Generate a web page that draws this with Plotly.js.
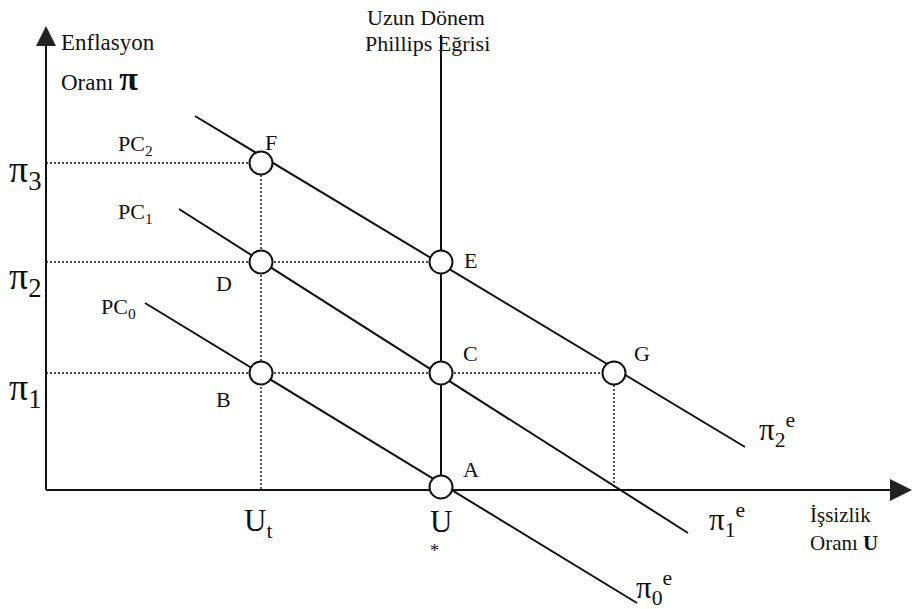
<!DOCTYPE html>
<html>
<head>
<meta charset="utf-8">
<script src="https://cdn.plot.ly/plotly-3.0.1.min.js"></script>
<style>html,body{margin:0;padding:0;background:#fff;}#chart{width:917px;height:609px;}</style>
</head>
<body>
<div id="chart"></div>
<script>
// ---- Data (diagram units: unemployment U on x, inflation π on y) ----
const U_t = 21.5, U_star = 39.5, U_g = 56.8;
const pi1 = 11.7, pi2 = 22.8, pi3 = 32.7;

const pc0_x = [9.9, 59.1],  pc0_y = [18.7, -11.3];
const pc1_x = [13.3, 64.2], pc1_y = [28.1, -4.3];
const pc2_x = [14.9, 69.9], pc2_y = [37.4, 4.3];
const lr_x = [U_star, U_star], lr_y = [45.5, 0.3];

const pointLabels = ['A', 'B', 'C', 'D', 'E', 'F', 'G'];
const pointX = [U_star, U_t, U_star, U_t, U_star, U_t, U_g];
const pointY = [0.3, pi1, pi1, pi2, pi2, pi3, pi1];

const xAxisEnd = 86.6, yAxisEnd = 46.4;

// ---- Styling ----
const FONT = 'Liberation Serif, Times New Roman, serif';
const INK = '#111';

// pixel helpers for label placement (plot area = whole figure)
const X0 = -4.6, X1 = 87.1, Y0 = -11.9, Y1 = 49.0, W = 917, H = 609;
const px = v => X0 + (X1 - X0) * v / W;
const py = v => Y1 - (Y1 - Y0) * v / H;

function solid(x, y, w) {
  return {type: 'scatter', mode: 'lines', x: x, y: y, hoverinfo: 'skip',
          line: {color: INK, width: w || 2}, showlegend: false};
}
function dotted(x, y) {
  return {type: 'scatter', mode: 'lines', x: x, y: y, hoverinfo: 'skip',
          line: {color: INK, width: 1.4, dash: '2px,2px'}, showlegend: false};
}

const traces = [
  // guide lines
  dotted([0, U_t], [pi3, pi3]),
  dotted([0, U_star], [pi2, pi2]),
  dotted([0, U_g], [pi1, pi1]),
  dotted([U_t, U_t], [pi3, 0]),
  dotted([U_g, U_g], [pi1, 0]),
  // axes
  solid([0, 0], [0, yAxisEnd - 1.5], 2),
  solid([0, xAxisEnd - 1.5], [0, 0], 2),
  {type: 'scatter', mode: 'markers', x: [0], y: [yAxisEnd], showlegend: false, hoverinfo: 'skip',
   marker: {symbol: 'arrow-up', size: 20, color: '#222', line: {width: 0}}},
  {type: 'scatter', mode: 'markers', x: [xAxisEnd], y: [0], showlegend: false, hoverinfo: 'skip',
   marker: {symbol: 'arrow-right', size: 22, color: '#222', line: {width: 0}}},
  // curves
  solid(pc0_x, pc0_y, 2),
  solid(pc1_x, pc1_y, 2),
  solid(pc2_x, pc2_y, 2),
  solid(lr_x, lr_y, 2),
  // points
  {type: 'scatter', mode: 'markers', x: pointX, y: pointY, text: pointLabels,
   showlegend: false, hoverinfo: 'skip',
   marker: {symbol: 'circle', size: 23, color: '#fff', line: {color: INK, width: 2}}}
];

function ann(text, x, y, opts) {
  return Object.assign({text: text, x: x, y: y, xref: 'x', yref: 'y', showarrow: false,
    font: {family: FONT, size: 22, color: INK}}, opts || {});
}
const big = s => ({family: FONT, size: s, color: INK});

const ptShift = {A: [30, 18], B: [-38, -26], C: [29, 20], D: [-37, -21], E: [29, 2], F: [10, 21], G: [28, 20]};
const annotations = [];
pointLabels.forEach((l, i) => {
  annotations.push(ann(l, pointX[i], pointY[i], {xshift: ptShift[l][0], yshift: ptShift[l][1]}));
});

annotations.push(
  ann('Enflasyon', px(59), py(42), {xanchor: 'left', font: big(23)}),
  ann('Oranı <b><span style="font-size:34px">π</span></b>', px(59), py(78), {xanchor: 'left', font: big(23)}),
  ann('Uzun Dönem', px(426), py(17)),
  ann('Phillips Eğrisi', px(427), py(43)),
  ann('İşsizlik', px(808), py(515), {xanchor: 'left', font: big(21)}),
  ann('Oranı <b>U</b>', px(808), py(543), {xanchor: 'left', font: big(21)}),
  ann('PC<sub>2</sub>', px(135), py(145)),
  ann('PC<sub>1</sub>', px(135), py(213)),
  ann('PC<sub>0</sub>', px(118), py(308)),
  ann('π<sub>3</sub>', px(25), py(172), {font: big(38)}),
  ann('π<sub>2</sub>', px(25), py(279), {font: big(38)}),
  ann('π<sub>1</sub>', px(25), py(390), {font: big(38)}),
  ann('U<sub>t</sub>', U_t, 0, {xshift: -3, yshift: -33, font: big(31)}),
  ann('U', U_star, 0, {yshift: -31, font: big(31)}),
  ann('*', U_star, 0, {xshift: -7, yshift: -61, font: big(18)}),
  ann('π<sub>2</sub><sup>e</sup>', px(777), py(430), {font: big(31)}),
  ann('π<sub>1</sub><sup>e</sup>', px(727), py(520), {font: big(31)}),
  ann('π<sub>0</sub><sup>e</sup>', px(654), py(588), {font: big(31)})
);

const layout = {
  width: W, height: H,
  margin: {l: 0, r: 0, t: 0, b: 0},
  paper_bgcolor: '#fff', plot_bgcolor: '#fff',
  xaxis: {range: [X0, X1], visible: false, fixedrange: true},
  yaxis: {range: [Y0, Y1], visible: false, fixedrange: true},
  annotations: annotations,
  showlegend: false
};

Plotly.newPlot('chart', traces, layout, {displayModeBar: false, staticPlot: true});
</script>
</body>
</html>
